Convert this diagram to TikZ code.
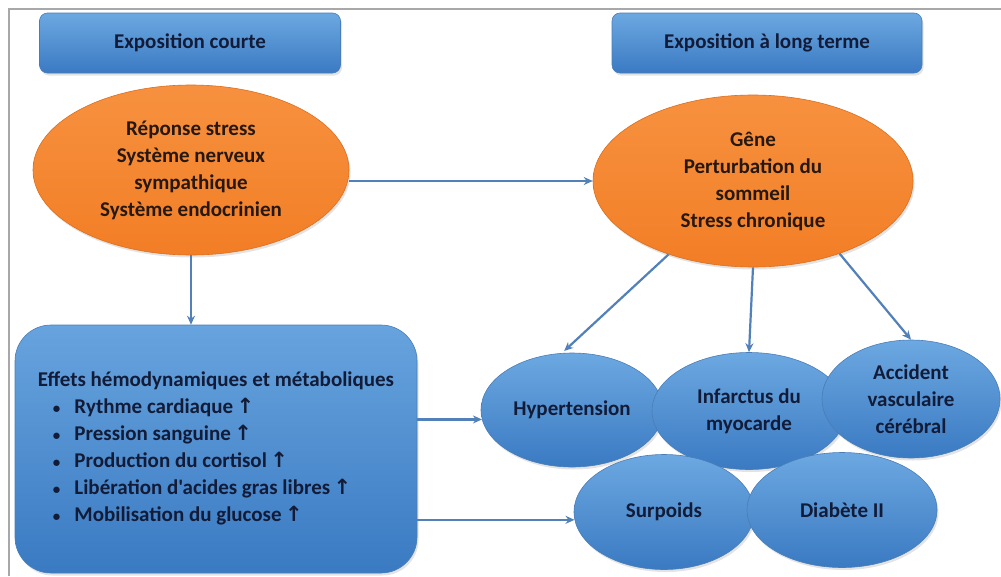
\documentclass[tikz,border=0pt]{standalone}
\usepackage{fontspec}
\setmainfont{Carlito}[Ligatures=TeXOff]
\newfontfamily\arrowfont{DejaVu Sans}
\usetikzlibrary{shapes.geometric,arrows.meta,shadows}
\definecolor{blueT}{HTML}{6CA8E1}
\definecolor{blueB}{HTML}{3A7AC2}
\definecolor{blueE}{HTML}{4A7DB8}
\definecolor{orangeT}{HTML}{F7913F}
\definecolor{orangeB}{HTML}{F27E26}
\definecolor{orangeE}{HTML}{DC6E1E}
\definecolor{navytext}{HTML}{121C38}
\definecolor{browntext}{HTML}{26180E}
\definecolor{arrowcol}{HTML}{5281BA}
\definecolor{framecol}{HTML}{A8A8A8}
\newcommand{\myup}{\,{\arrowfont\bfseries ↑}}
\newcommand{\mybul}{{\fontsize{15}{27}\selectfont •}}
\tikzset{
  txt/.style={font=\fontsize{21}{27}\selectfont\bfseries, align=center, inner sep=0pt},
  shade/.style={drop shadow={opacity=0.22, shadow xshift=1.5pt, shadow yshift=-2.5pt}},
  hdr/.style={txt, rectangle, rounded corners=8pt, top color=blueT, bottom color=blueB,
    draw=blueE, line width=0.6pt, minimum width=301pt, minimum height=60pt, text=navytext, shade},
  bigbox/.style={txt, rectangle, rounded corners=36pt, top color=blueT!90!blueB, bottom color=blueB,
    draw=blueE, line width=0.6pt, minimum width=402pt, minimum height=248pt, text=navytext, shade},
  oval/.style={txt, ellipse, top color=orangeT, bottom color=orangeB, draw=orangeE,
    line width=0.6pt, text=browntext, shade},
  bluoval/.style={txt, ellipse, top color=blueT, bottom color=blueB, draw=blueE,
    line width=0.6pt, text=navytext, shade},
  arr/.style={draw=arrowcol, line width=2.2pt, -{Stealth[length=9pt,width=8pt]}}
}
\begin{document}
\begin{tikzpicture}[x=1pt,y=-1pt]
\useasboundingbox (0,0) rectangle (1001,576);
\fill[white] (0,0) rectangle (1001,576);
\draw[framecol, line width=1.2pt] (9,576) -- (9,9) -- (1001,9);

\node[hdr] (h1) at (190,43) {Exposition courte};
\node[hdr, minimum width=310pt] (h2) at (767,43) {Exposition à long terme};

\node[oval, minimum width=316pt, minimum height=170pt] (o1) at (191,170)
  {Réponse stress\\Système nerveux\\sympathique\\Système endocrinien};
\node[oval, minimum width=320pt, minimum height=172pt] (o2) at (753,181)
  {Gêne\\Perturbation du\\sommeil\\Stress chronique};

\node[bigbox] (big) at (216,449) {%
  \begin{tabular}{@{\hspace{15pt}}c@{\hspace{14pt}}l@{}}
  \multicolumn{2}{@{}l@{}}{Effets hémodynamiques et métaboliques}\\
  \mybul & Rythme cardiaque\myup\\
  \mybul & Pression sanguine\myup\\
  \mybul & Production du cortisol\myup\\
  \mybul & Libération d'acides gras libres\myup\\
  \mybul & Mobilisation du glucose\myup
  \end{tabular}};

\node[bluoval, minimum width=182pt, minimum height=114pt] (hyp) at (572,410) {Hypertension};
\node[bluoval, minimum width=194pt, minimum height=117pt] (inf) at (749,411) {Infarctus du\\myocarde};
\node[bluoval, minimum width=178pt, minimum height=118pt] (acc) at (911,399) {Accident\\vasculaire\\cérébral};
\node[bluoval, minimum width=180pt, minimum height=115pt] (sur) at (664,512) {Surpoids};
\node[bluoval, minimum width=190pt, minimum height=115pt] (dia) at (842,510) {Diabète II};

\draw[arr] (o1.east |- o2.west) -- (o2.west);
\draw[arr] (o1.south) -- (o1.south |- big.north);
\draw[arr] (big.east |- hyp.186) -- (hyp.186);
\draw[arr] (big.east |- sur.185) -- (sur.185);
\draw[arr, shorten >=3pt] (o2.221) -- (hyp.100);
\draw[arr] (o2.south) -- (inf.north);
\draw[arr] (o2.320) -- (acc.north);
\end{tikzpicture}
\end{document}
